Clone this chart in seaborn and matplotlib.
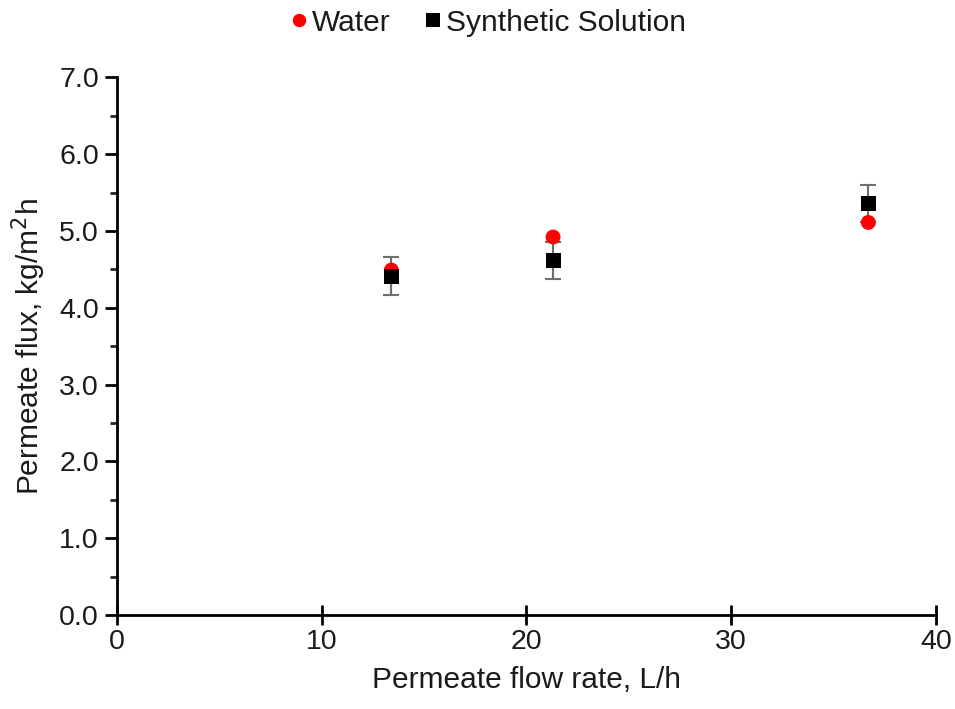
import matplotlib
matplotlib.use("Agg")
import matplotlib.pyplot as plt
from matplotlib.ticker import MultipleLocator, FormatStrFormatter
import seaborn as sns
import pandas as pd

flow_rate = [13.4, 21.3, 36.7]
water_flux = [4.49, 4.92, 5.11]
synthetic_flux = [4.41, 4.62, 5.36]
synthetic_err = [0.25, 0.24, 0.24]
series_names = ["Water", "Synthetic Solution"]

sns.set_theme(style="white")
plt.rcParams['font.family'] = ['Liberation Sans', 'DejaVu Sans']
plt.rcParams['text.color'] = '#1a1a1a'
plt.rcParams['axes.labelcolor'] = '#1a1a1a'

df = pd.DataFrame({
    "flow": flow_rate * 2,
    "flux": water_flux + synthetic_flux,
    "series": [series_names[0]] * 3 + [series_names[1]] * 3,
})

fig = plt.figure(figsize=(9.55, 7.09), dpi=100)
ax = fig.add_axes([0.1225, 0.1326, 0.8575, 0.7584])

ax.errorbar(flow_rate, synthetic_flux, yerr=synthetic_err, fmt='none',
            ecolor='#6e6e6e', elinewidth=1.5, capsize=6, capthick=1.5, zorder=1)

sns.scatterplot(data=df, x="flow", y="flux", hue="series", style="series",
                palette={series_names[0]: "#ff0000", series_names[1]: "#000000"},
                markers={series_names[0]: "o", series_names[1]: "s"},
                s=115, edgecolor='none', linewidth=0, ax=ax, zorder=3, legend=True)

ax.set_xlim(0, 40)
ax.set_ylim(0, 7.0)
ax.xaxis.set_major_locator(MultipleLocator(10))
ax.yaxis.set_major_locator(MultipleLocator(1.0))
ax.yaxis.set_minor_locator(MultipleLocator(0.5))
ax.yaxis.set_major_formatter(FormatStrFormatter('%.1f'))

for s in ['top', 'right']:
    ax.spines[s].set_visible(False)
for s in ['left', 'bottom']:
    ax.spines[s].set_color('black')
    ax.spines[s].set_linewidth(2)

ax.tick_params(axis='x', which='major', direction='inout', length=14, width=2,
               labelsize=20.5, colors='black', labelcolor='#1a1a1a', pad=3, bottom=True)
ax.tick_params(axis='y', which='major', direction='out', length=9, width=2,
               labelsize=20.5, colors='black', labelcolor='#1a1a1a', left=True, pad=4)
ax.tick_params(axis='y', which='minor', direction='out', length=5, width=2, left=True)

ax.set_xlabel("Permeate flow rate, L/h", fontsize=21.5, labelpad=8)
ax.set_ylabel("Permeate flux, kg/m$^2$h", fontsize=21.5, labelpad=8)

handles, labels = ax.get_legend_handles_labels()
ax.legend(handles, labels, loc='center', bbox_to_anchor=(0.5, 0.968),
          bbox_transform=fig.transFigure,
          ncol=2, frameon=False, fontsize=21.5, handletextpad=-0.55, columnspacing=0.4,
          markerscale=0.9)

fig.savefig("out.png", dpi=100)
